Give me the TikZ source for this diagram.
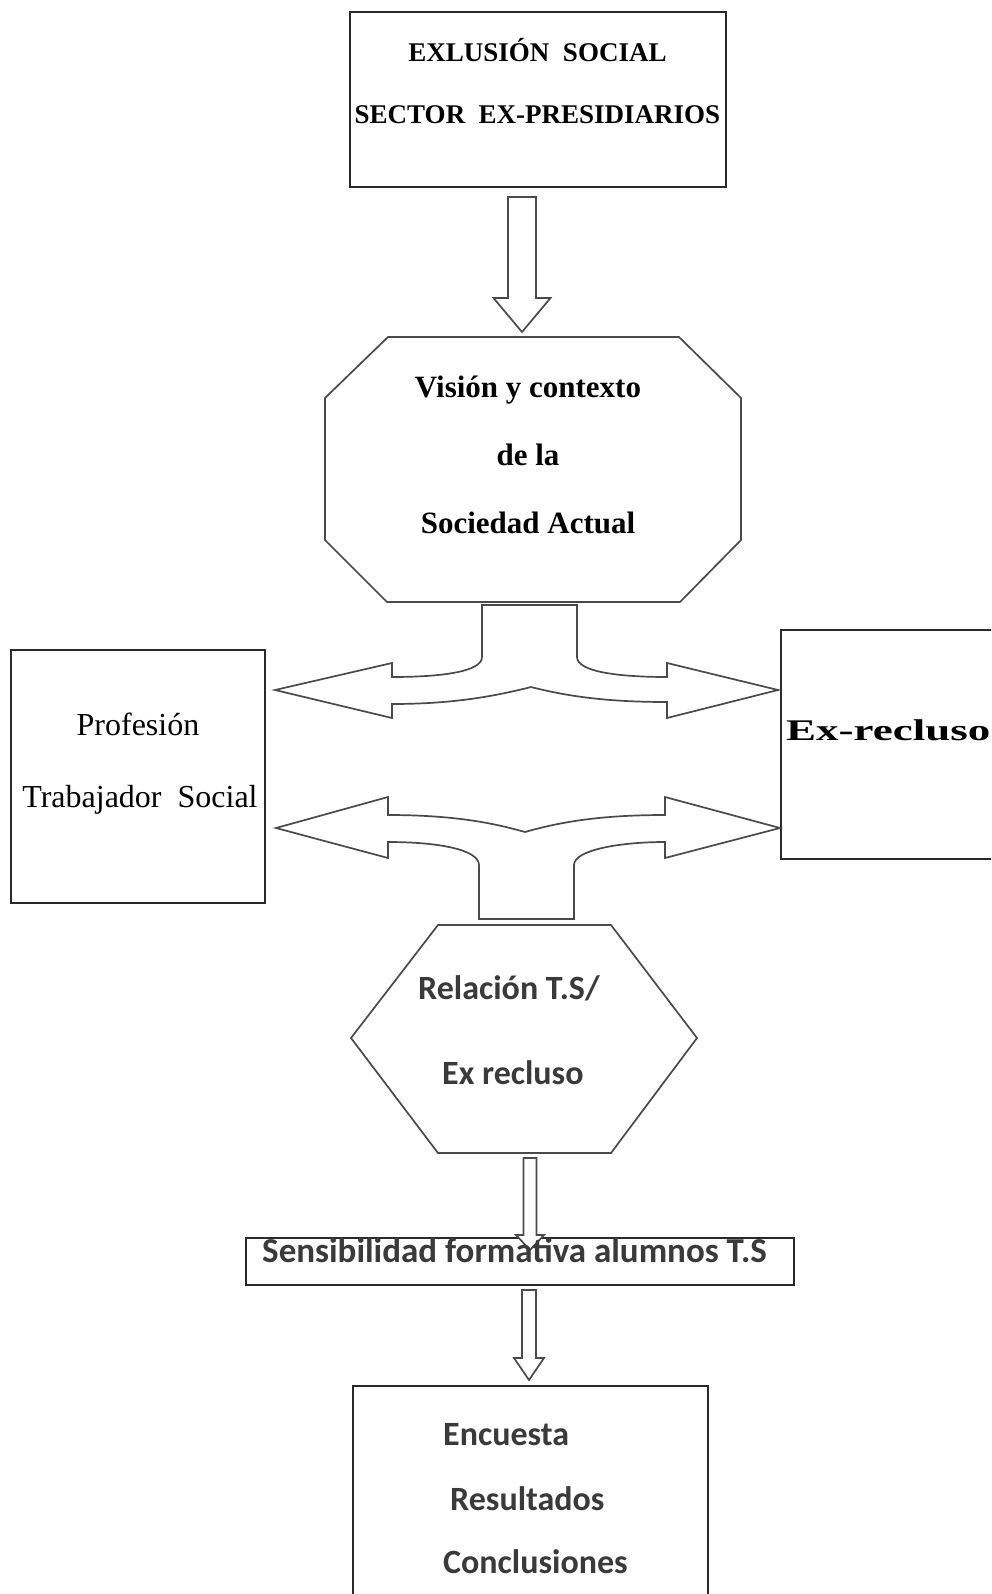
\documentclass[tikz,border=0pt]{standalone}
\usepackage{fontspec}
\setmainfont{Liberation Serif}
\newfontfamily\calib{Carlito}
\usepackage{graphicx}
\definecolor{calibtxt}{HTML}{3A3A3A}
\definecolor{lncol}{HTML}{2A2A2A}
\tikzset{
  boxline/.style={draw=lncol, line width=2pt, fill=none, inner sep=0pt, outer sep=0pt},
  shapeline/.style={draw=lncol!85, line width=1.7pt, line join=miter},
  blockarrow/.style={draw=lncol!85, line width=1.7pt, fill=white, line join=miter},
  tserif/.style={inner sep=0pt, anchor=base, font=\fontsize{27}{32}\selectfont\bfseries},
  oserif/.style={inner sep=0pt, anchor=base, font=\fontsize{31}{36}\selectfont\bfseries},
  lserif/.style={inner sep=0pt, anchor=base, font=\fontsize{32}{36}\selectfont},
  cbold/.style={inner sep=0pt, anchor=base west, text=calibtxt, font=\calib\fontsize{34}{40}\selectfont\bfseries},
}
\newcommand\blockdown[6]{%
  \draw[blockarrow] (#1-#5,#2) -- (#1+#5,#2) -- (#1+#5,#3) -- (#1+#6,#3) -- (#1,#4) -- (#1-#6,#3) -- (#1-#5,#3) -- cycle;}
\begin{document}
\begin{tikzpicture}[x=1pt,y=-1pt]
\useasboundingbox (0,0) rectangle (991,1594);
\clip (0,0) rectangle (991,1594);
\fill[white] (0,0) rectangle (991,1594);

% boxes
\node[boxline, minimum width=376pt, minimum height=175pt] (topbox) at (538,99.5) {};
\node[boxline, minimum width=254pt, minimum height=253pt] (leftbox) at (138,776.5) {};
\node[boxline, minimum width=230pt, minimum height=229pt] (rightbox) at (896,744.5) {};
\node[boxline, minimum width=548pt, minimum height=47pt] (sensbox) at (520,1261.5) {};
\node[boxline, minimum width=355pt, minimum height=240pt] (endbox) at (530.5,1506) {};

% octagon
\draw[shapeline] (388,337) -- (679,337) -- (741,398) -- (741,540) -- (680,602) -- (387,602) -- (325,540) -- (325,398) -- cycle;
% hexagon
\draw[shapeline] (438,925) -- (611,925) -- (697,1038) -- (611,1153) -- (438,1153) -- (351,1038) -- cycle;

% block arrows
\blockdown{522}{197}{298}{332}{14}{28.5}
\draw[blockarrow] (482,605) -- (577,605) -- (577,657) .. controls (577,672) and (620,677) .. (667,677) -- (667,663) -- (778,690) -- (667,718) -- (667,702) .. controls (610,702) and (570,697) .. (531,687) .. controls (492,697) and (450,704) .. (392,704) -- (392,718) -- (275,690) -- (392,663) -- (392,677) .. controls (440,677) and (482,672) .. (482,657) -- cycle;
\draw[blockarrow] (479,919) -- (574,919) -- (574,865) .. controls (574,850) and (620,842) .. (665,842) -- (665,858) -- (780,828) -- (665,797) -- (665,815) .. controls (600,815) and (560,822) .. (525,832) .. controls (490,822) and (450,815) .. (388,815) -- (388,797) -- (276,828) -- (388,858) -- (388,842) .. controls (440,842) and (479,850) .. (479,865) -- cycle;
\blockdown{530}{1158}{1235}{1250}{6.5}{14}
\blockdown{529}{1290}{1358}{1380}{7}{15}

% texts
\node[tserif] (t1) at (537.5,62) {EXLUSIÓN~~SOCIAL};
\node[tserif] (t2) at (537.5,124) {SECTOR~~EX-PRESIDIARIOS};
\node[oserif] (o1) at (528,397) {Visión y contexto};
\node[oserif] (o2) at (528,465) {de la};
\node[oserif] (o3) at (528,533) {Sociedad Actual};
\node[lserif] (l1) at (138,735) {Profesión};
\node[lserif] (l2) at (140,807) {Trabajador~~Social};
\node[inner sep=0pt, anchor=base west, font=\fontsize{30}{34}\selectfont\bfseries] (r1) at (786,740) {\scalebox{1.5}[1]{Ex-recluso}};
\node[cbold] (h1) at (418,999) {Relación T.S/};
\node[cbold] (h2) at (442,1084) {Ex recluso};
\node[cbold, font=\calib\fontsize{35}{40}\selectfont\bfseries] (s1) at (262,1262) {Sensibilidad formativa alumnos T.S};
\node[cbold] (e1) at (443,1445) {Encuesta};
\node[cbold] (e2) at (450,1510) {Resultados};
\node[cbold] (e3) at (443,1573) {Conclusiones};
\end{tikzpicture}
\end{document}
